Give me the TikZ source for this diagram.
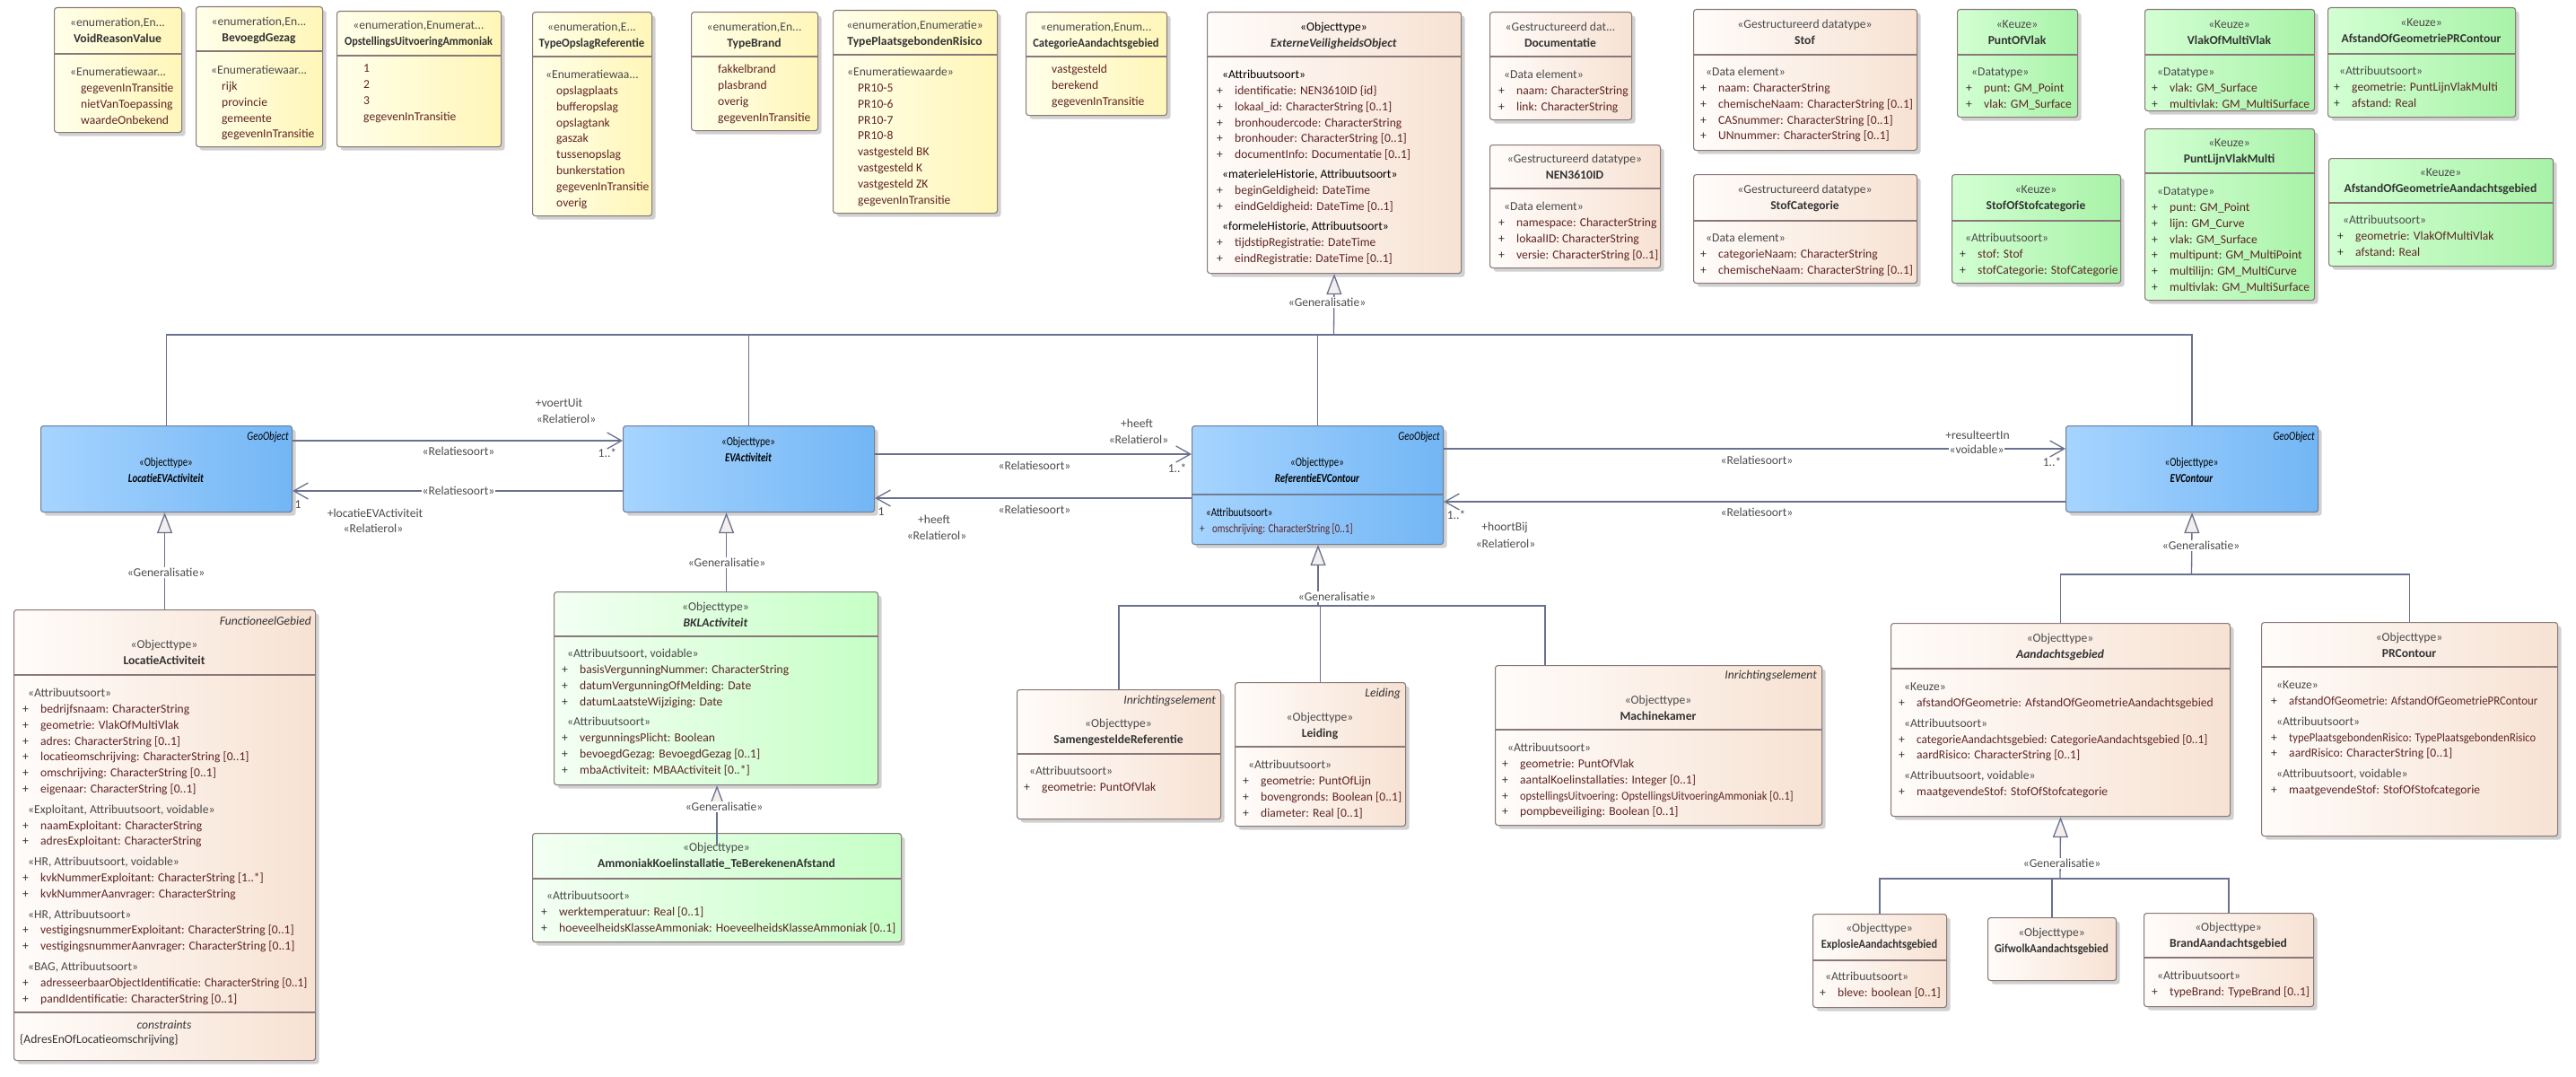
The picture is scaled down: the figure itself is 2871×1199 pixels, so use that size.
\documentclass[tikz,border=0pt]{standalone}
\usepackage{fontspec}
\setmainfont{Carlito}
\newfontfamily\narrowfont[FakeStretch=0.8]{Carlito}
\usepackage{graphicx}
\usetikzlibrary{arrows.meta,shadows,calc}
\definecolor{bordc}{HTML}{8A7878}
\definecolor{blbord}{HTML}{6F7D95}
\definecolor{enL}{HTML}{FFFFEA}
\definecolor{enR}{HTML}{FFF6B8}
\definecolor{beL}{HTML}{FFFCFA}
\definecolor{beR}{HTML}{F7E2D3}
\definecolor{grL}{HTML}{D3FFD3}
\definecolor{grR}{HTML}{A8F2A8}
\definecolor{lgL}{HTML}{F3FFF3}
\definecolor{lgR}{HTML}{C6FFC6}
\definecolor{blL}{HTML}{A6D4FF}
\definecolor{blR}{HTML}{73B6F5}
\definecolor{trif}{HTML}{F4EEEC}
\definecolor{lnc}{HTML}{69718F}
\definecolor{stc}{HTML}{4A4A4A}
\definecolor{atc}{HTML}{5E2525}
\definecolor{ttc}{HTML}{333333}
\definecolor{lbc}{HTML}{4D4D4D}
\newcommand\fs{\fontsize{13.6}{17.8}\selectfont}
\newcommand\uS[1]{\strut\hspace*{6pt}\textcolor{stc}{#1}}
\newcommand\uK[1]{\strut\hspace*{6pt}\textcolor{black}{#1}}
\newcommand\uA[1]{\strut\makebox[20pt][l]{+}\textcolor{atc}{#1}}
\newcommand\uE[1]{\strut\hspace*{12pt}\textcolor{atc}{#1}}
\newcommand\uT[1]{\strut\textcolor{stc}{#1}}
\newcommand\uH[2]{\strut\textcolor{stc}{#1}\\\strut\textbf{#2}}
\newcommand\sqz[2]{\scalebox{#1}[1]{#2}}
\tikzset{
 x=1pt, y=-1pt,
 boxbase/.style={draw=bordc, line width=1.1pt, rounded corners=3pt, inner sep=0pt, anchor=north west,
   drop shadow={shadow xshift=4pt, shadow yshift=-4pt, fill=black!18, opacity=1, draw=none}},
 enumbox/.style={boxbase, left color=enL, right color=enR},
 beigebox/.style={boxbase, left color=beL, right color=beR},
 greenbox/.style={boxbase, left color=grL, right color=grR},
 lgreenbox/.style={boxbase, left color=lgL, right color=lgR},
 bluebox/.style={boxbase, draw=blbord, left color=blL, right color=blR},
 hd/.style={inner sep=0pt, align=center, font=\fs, text=ttc, anchor=north},
 cp/.style={inner sep=0pt, align=left, font=\fs, text=ttc, anchor=north west},
 sepst/.style={draw=bordc, line width=1.1pt},
 conn/.style={draw=lnc, line width=1.3pt},
 gen/.style={conn, -{Triangle[length=23pt,width=17pt,fill=trif]}},
 assoc/.style={conn, -{Straight Barb[length=16pt,width=18pt]}},
 lbl/.style={inner sep=1pt, font=\fs, text=lbc},
 lblw/.style={lbl, fill=white},
 tag/.style={inner sep=0pt, font=\fs\itshape, text=ttc, anchor=east},
}
\newcommand\ubox[6]{\node[#2, minimum width=#5pt, minimum height=#6pt] (#1) at (#3,#4) {};}
\newcommand\uhd[4]{\node[hd] (#1-hd) at (#2,#3-8) {#4};}
\newcommand\usep[2]{\draw[sepst] (#1.west |- 0,#2) -- (#1.east |- 0,#2);}
\newcommand\ucp[4]{\node[cp] (#1) at (#2,#3-8) {#4};}
\begin{document}
\begin{tikzpicture}
\fill[white] (0,0) rectangle (2871,1199);
\useasboundingbox (0,0) rectangle (2871,1199);

% ---------- enumerations ----------
\ubox{voidrv}{enumbox}{60}{8}{142}{139}
\uhd{voidrv}{131}{25}{\uH{«enumeration,En...}{VoidReasonValue}}
\usep{voidrv}{60}
\ucp{voidrv-c}{78}{80}{\uT{«Enumeratiewaar...}\\\uE{gegevenInTransitie}\\\uE{nietVanToepassing}\\\uE{waardeOnbekend}}

\ubox{bevg}{enumbox}{218}{7}{141}{156}
\uhd{bevg}{288.5}{24}{\uH{«enumeration,En...}{BevoegdGezag}}
\usep{bevg}{57}
\ucp{bevg-c}{235}{78}{\uT{«Enumeratiewaar...}\\\uE{rijk}\\\uE{provincie}\\\uE{gemeente}\\\uE{gegevenInTransitie}}

\ubox{opst}{enumbox}{375}{12}{183}{151}
\uhd{opst}{466.5}{28}{\uH{«enumeration,Enumerat...}{\sqz{0.9}{OpstellingsUitvoeringAmmoniak}}}
\usep{opst}{62}
\ucp{opst-c}{393}{76}{\uE{1}\\\uE{2}\\\uE{3}\\\uE{gegevenInTransitie}}

\ubox{tolr}{enumbox}{593}{13}{133}{227}
\uhd{tolr}{659.5}{30}{\uH{«enumeration,E...}{\sqz{0.95}{TypeOpslagReferentie}}}
\usep{tolr}{63}
\ucp{tolr-c}{608}{83}{\uT{«Enumeratiewaa...}\\\uE{opslagplaats}\\\uE{bufferopslag}\\\uE{opslagtank}\\\uE{gaszak}\\\uE{tussenopslag}\\\uE{bunkerstation}\\\uE{gegevenInTransitie}\\\uE{overig}}

\ubox{tbrand}{enumbox}{770}{13}{141}{132}
\uhd{tbrand}{840.5}{30}{\uH{«enumeration,En...}{TypeBrand}}
\usep{tbrand}{63}
\ucp{tbrand-c}{788}{77}{\uE{fakkelbrand}\\\uE{plasbrand}\\\uE{overig}\\\uE{gegevenInTransitie}}

\ubox{tpgr}{enumbox}{928}{11}{183}{226}
\uhd{tpgr}{1019.5}{28}{\uH{«enumeration,Enumeratie»}{TypePlaatsgebondenRisico}}
\usep{tpgr}{61}
\ucp{tpgr-c}{944}{80}{\uT{«Enumeratiewaarde»}\\\uE{PR10-5}\\\uE{PR10-6}\\\uE{PR10-7}\\\uE{PR10-8}\\\uE{vastgesteld BK}\\\uE{vastgesteld K}\\\uE{vastgesteld ZK}\\\uE{gegevenInTransitie}}

\ubox{catag}{enumbox}{1143}{13}{157}{115}
\uhd{catag}{1221.5}{30}{\uH{«enumeration,Enum...}{\sqz{0.93}{CategorieAandachtsgebied}}}
\usep{catag}{63}
\ucp{catag-c}{1160}{77}{\uE{vastgesteld}\\\uE{berekend}\\\uE{gegevenInTransitie}}

% ---------- data types top ----------
\ubox{evo}{beigebox}{1345}{13}{283}{291}
\node[hd] (evo-hd) at (1486.5,22) {\strut\textcolor{black}{«Objecttype»}\\\strut\textbf{\textit{ExterneVeiligheidsObject}}};
\usep{evo}{63}
\ucp{evo-c}{1356}{83}{\uK{«Attribuutsoort»}\\\uA{identificatie: NEN3610ID \{id\}}\\\uA{lokaal\_id: CharacterString [0..1]}\\\uA{bronhoudercode: CharacterString}\\\uA{bronhouder: CharacterString [0..1]}\\\uA{documentInfo: Documentatie [0..1]}\\[4pt]\uK{«materieleHistorie, Attribuutsoort»}\\\uA{beginGeldigheid: DateTime}\\\uA{eindGeldigheid: DateTime [0..1]}\\[5pt]\uK{«formeleHistorie, Attribuutsoort»}\\\uA{tijdstipRegistratie: DateTime}\\\uA{eindRegistratie: DateTime [0..1]}}

\ubox{docu}{beigebox}{1660}{13}{158}{120}
\uhd{docu}{1739}{30}{\uH{«Gestructureerd dat...}{Documentatie}}
\usep{docu}{63}
\ucp{docu-c}{1670}{83}{\uS{«Data element»}\\\uA{naam: CharacterString}\\\uA{link: CharacterString}}

\ubox{nen}{beigebox}{1660}{161}{190}{137}
\uhd{nen}{1755}{177}{\uH{«Gestructureerd datatype»}{NEN3610ID}}
\usep{nen}{210}
\ucp{nen-c}{1670}{230}{\uS{«Data element»}\\\uA{namespace: CharacterString}\\\uA{lokaalID: CharacterString}\\\uA{versie: CharacterString [0..1]}}

\ubox{stof}{beigebox}{1887}{10}{249}{157}
\uhd{stof}{2011.5}{27}{\uH{«Gestructureerd datatype»}{Stof}}
\usep{stof}{61}
\ucp{stof-c}{1895}{80}{\uS{«Data element»}\\\uA{naam: CharacterString}\\\uA{chemischeNaam: CharacterString [0..1]}\\\uA{CASnummer: CharacterString [0..1]}\\\uA{UNnummer: CharacterString [0..1]}}

\ubox{stofcat}{beigebox}{1887}{194}{249}{121}
\uhd{stofcat}{2011.5}{211}{\uH{«Gestructureerd datatype»}{StofCategorie}}
\usep{stofcat}{246}
\ucp{stofcat-c}{1895}{265}{\uS{«Data element»}\\\uA{categorieNaam: CharacterString}\\\uA{chemischeNaam: CharacterString [0..1]}}

\ubox{puntvlak}{greenbox}{2181}{10}{134}{120}
\uhd{puntvlak}{2248}{27}{\uH{«Keuze»}{PuntOfVlak}}
\usep{puntvlak}{61}
\ucp{puntvlak-c}{2191}{80}{\uS{«Datatype»}\\\uA{punt: GM\_Point}\\\uA{vlak: GM\_Surface}}

\ubox{stofof}{greenbox}{2175}{194}{188}{121}
\uhd{stofof}{2269}{211}{\uH{«Keuze»}{StofOfStofcategorie}}
\usep{stofof}{246}
\ucp{stofof-c}{2184}{265}{\uS{«Attribuutsoort»}\\\uA{stof: Stof}\\\uA{stofCategorie: StofCategorie}}

\ubox{vlakmv}{greenbox}{2390}{10}{189}{113}
\uhd{vlakmv}{2484.5}{27}{\uH{«Keuze»}{VlakOfMultiVlak}}
\usep{vlakmv}{61}
\ucp{vlakmv-c}{2398}{80}{\uS{«Datatype»}\\\uA{vlak: GM\_Surface}\\\uA{multivlak: GM\_MultiSurface}}

\ubox{plvm}{greenbox}{2390}{143}{189}{191}
\uhd{plvm}{2484.5}{159}{\uH{«Keuze»}{PuntLijnVlakMulti}}
\usep{plvm}{193}
\ucp{plvm-c}{2398}{213}{\uS{«Datatype»}\\\uA{punt: GM\_Point}\\\uA{lijn: GM\_Curve}\\\uA{vlak: GM\_Surface}\\\uA{multipunt: GM\_MultiPoint}\\\uA{multilijn: GM\_MultiCurve}\\\uA{multivlak: GM\_MultiSurface}}

\ubox{aogpr}{greenbox}{2594}{8}{209}{122}
\uhd{aogpr}{2698.5}{25}{\uH{«Keuze»}{AfstandOfGeometriePRContour}}
\usep{aogpr}{60}
\ucp{aogpr-c}{2601}{79}{\uS{«Attribuutsoort»}\\\uA{geometrie: PuntLijnVlakMulti}\\\uA{afstand: Real}}

\ubox{aogag}{greenbox}{2595}{176}{250}{120}
\uhd{aogag}{2720}{192}{\uH{«Keuze»}{AfstandOfGeometrieAandachtsgebied}}
\usep{aogag}{226}
\ucp{aogag-c}{2605}{245}{\uS{«Attribuutsoort»}\\\uA{geometrie: VlakOfMultiVlak}\\\uA{afstand: Real}}

% ---------- blue object types ----------
\ubox{locev}{bluebox}{45}{474}{280}{96}
\node[tag, font=\fs\narrowfont\itshape, text=black] (locev-geo) at (322,487) {GeoObject};
\node[hd, font=\fs\narrowfont, text=black] (locev-hd) at (185,507) {\strut«Objecttype»\\\strut\textbf{\textit{LocatieEVActiviteit}}};

\ubox{evact}{bluebox}{694}{474}{280}{96}
\node[hd, font=\fs\narrowfont, text=black] (evact-hd) at (834,484) {\strut«Objecttype»\\\strut\textbf{\textit{EVActiviteit}}};

\ubox{ref}{bluebox}{1328}{474}{280}{132}
\node[tag, font=\fs\narrowfont\itshape, text=black] (ref-geo) at (1605,487) {GeoObject};
\node[hd, font=\fs\narrowfont, text=black] (ref-hd) at (1468,507) {\strut«Objecttype»\\\strut\textbf{\textit{ReferentieEVContour}}};
\draw[sepst, draw=blbord] (ref.west |- 0,551) -- (ref.east |- 0,551);
\node[cp, font=\fs\narrowfont] (ref-c) at (1337,563) {\strut\hspace*{7pt}\textcolor{black}{«Attribuutsoort»}\\\strut\makebox[14pt][l]{+}\textcolor{atc}{omschrijving: CharacterString [0..1]}};

\ubox{evc}{bluebox}{2302}{474}{281}{96}
\node[tag, font=\fs\narrowfont\itshape, text=black] (evc-geo) at (2580,487) {GeoObject};
\node[hd, font=\fs\narrowfont, text=black] (evc-hd) at (2442.5,507) {\strut«Objecttype»\\\strut\textbf{\textit{EVContour}}};

% ---------- LocatieActiviteit ----------
\ubox{locact}{beigebox}{15}{679}{336}{502}
\node[tag] (locact-tag) at (347,692) {FunctioneelGebied};
\uhd{locact}{183}{718}{\uH{«Objecttype»}{LocatieActiviteit}}
\usep{locact}{752}
\ucp{locact-c}{25}{772}{\uS{«Attribuutsoort»}\\\uA{bedrijfsnaam: CharacterString}\\\uA{geometrie: VlakOfMultiVlak}\\\uA{adres: CharacterString [0..1]}\\\uA{locatieomschrijving: CharacterString [0..1]}\\\uA{omschrijving: CharacterString [0..1]}\\\uA{eigenaar: CharacterString [0..1]}\\[5pt]\uS{«Exploitant, Attribuutsoort, voidable»}\\\uA{naamExploitant: CharacterString}\\\uA{adresExploitant: CharacterString}\\[5pt]\uS{«HR, Attribuutsoort, voidable»}\\\uA{kvkNummerExploitant: CharacterString [1..*]}\\\uA{kvkNummerAanvrager: CharacterString}\\[5pt]\uS{«HR, Attribuutsoort»}\\\uA{vestigingsnummerExploitant: CharacterString [0..1]}\\\uA{vestigingsnummerAanvrager: CharacterString [0..1]}\\[5pt]\uS{«BAG, Attribuutsoort»}\\\uA{\sqz{0.97}{adresseerbaarObjectIdentificatie: CharacterString [0..1]}}\\\uA{pandIdentificatie: CharacterString [0..1]}}
\usep{locact}{1128}
\node[inner sep=0pt, font=\fs\itshape, text=ttc] (locact-cn) at (183,1142) {constraints};
\node[inner sep=0pt, font=\fs, text=ttc, anchor=west] (locact-cs) at (22,1159) {\{AdresEnOfLocatieomschrijving\}};

% ---------- BKL / Ammoniak ----------
\ubox{bkl}{lgreenbox}{617}{659}{361}{215}
\uhd{bkl}{797.5}{676}{\uH{«Objecttype»}{\textit{BKLActiviteit}}}
\usep{bkl}{709}
\ucp{bkl-c}{626}{728}{\uS{«Attribuutsoort, voidable»}\\\uA{basisVergunningNummer: CharacterString}\\\uA{datumVergunningOfMelding: Date}\\\uA{datumLaatsteWijziging: Date}\\[5pt]\uS{«Attribuutsoort»}\\\uA{vergunningsPlicht: Boolean}\\\uA{bevoegdGezag: BevoegdGezag [0..1]}\\\uA{mbaActiviteit: MBAActiviteit [0..*]}}

\ubox{amm}{lgreenbox}{593}{928}{411}{121}
\uhd{amm}{798.5}{944}{\uH{«Objecttype»}{AmmoniakKoelinstallatie\_TeBerekenenAfstand}}
\usep{amm}{979}
\ucp{amm-c}{603}{998}{\uS{«Attribuutsoort»}\\\uA{werktemperatuur: Real [0..1]}\\\uA{hoeveelheidsKlasseAmmoniak: HoeveelheidsKlasseAmmoniak [0..1]}}

% ---------- Referentie children ----------
\ubox{samref}{beigebox}{1133}{768}{227}{144}
\node[tag] (samref-tag) at (1355,781) {Inrichtingselement};
\uhd{samref}{1246.5}{806}{\uH{«Objecttype»}{SamengesteldeReferentie}}
\usep{samref}{840}
\ucp{samref-c}{1141}{859}{\uS{«Attribuutsoort»}\\\uA{geometrie: PuntOfVlak}}

\ubox{leiding}{beigebox}{1376}{760}{190}{160}
\node[tag] (leiding-tag) at (1561,773) {Leiding};
\uhd{leiding}{1471}{799}{\uH{«Objecttype»}{Leiding}}
\usep{leiding}{832}
\ucp{leiding-c}{1385}{852}{\uS{«Attribuutsoort»}\\\uA{geometrie: PuntOfLijn}\\\uA{bovengronds: Boolean [0..1]}\\\uA{diameter: Real [0..1]}}

\ubox{mach}{beigebox}{1666}{741}{364}{178}
\node[tag] (mach-tag) at (2025,753) {Inrichtingselement};
\uhd{mach}{1848}{780}{\uH{«Objecttype»}{Machinekamer}}
\usep{mach}{813}
\ucp{mach-c}{1674}{833}{\uS{«Attribuutsoort»}\\\uA{geometrie: PuntOfVlak}\\\uA{aantalKoelinstallaties: Integer [0..1]}\\\uA{\sqz{0.91}{opstellingsUitvoering: OpstellingsUitvoeringAmmoniak [0..1]}}\\\uA{pompbeveiliging: Boolean [0..1]}}

% ---------- EVContour children ----------
\ubox{aand}{beigebox}{2107}{694}{378}{215}
\uhd{aand}{2296}{711}{\uH{«Objecttype»}{\textit{Aandachtsgebied}}}
\usep{aand}{745}
\ucp{aand-c}{2116}{765}{\uS{«Keuze»}\\\uA{afstandOfGeometrie: AfstandOfGeometrieAandachtsgebied}\\[5pt]\uS{«Attribuutsoort»}\\\uA{\sqz{0.97}{categorieAandachtsgebied: CategorieAandachtsgebied [0..1]}}\\\uA{aardRisico: CharacterString [0..1]}\\[5pt]\uS{«Attribuutsoort, voidable»}\\\uA{maatgevendeStof: StofOfStofcategorie}}

\ubox{prc}{beigebox}{2520}{693}{330}{238}
\uhd{prc}{2685}{710}{\uH{«Objecttype»}{PRContour}}
\usep{prc}{743}
\ucp{prc-c}{2531}{763}{\uS{«Keuze»}\\\uA{\sqz{0.94}{afstandOfGeometrie: AfstandOfGeometriePRContour}}\\[5pt]\uS{«Attribuutsoort»}\\\uA{\sqz{0.92}{typePlaatsgebondenRisico: TypePlaatsgebondenRisico}}\\\uA{aardRisico: CharacterString [0..1]}\\[5pt]\uS{«Attribuutsoort, voidable»}\\\uA{maatgevendeStof: StofOfStofcategorie}}

\ubox{explo}{beigebox}{2020}{1018}{149}{104}
\uhd{explo}{2094.5}{1034}{\uH{«Objecttype»}{\sqz{0.9}{ExplosieAandachtsgebied}}}
\usep{explo}{1070}
\ucp{explo-c}{2028}{1088}{\uS{«Attribuutsoort»}\\\uA{bleve: boolean [0..1]}}

\ubox{gifw}{beigebox}{2215}{1022}{143}{70}
\uhd{gifw}{2286.5}{1039}{\uH{«Objecttype»}{\sqz{0.9}{GifwolkAandachtsgebied}}}

\ubox{brand}{beigebox}{2389}{1017}{189}{104}
\uhd{brand}{2483.5}{1033}{\uH{«Objecttype»}{BrandAandachtsgebied}}
\usep{brand}{1067}
\ucp{brand-c}{2398}{1087}{\uS{«Attribuutsoort»}\\\uA{typeBrand: TypeBrand [0..1]}}

% ---------- generalisations ----------
\coordinate (evobus) at (1486.5,373);
\draw[conn] (locev.north) |- (evobus);
\draw[conn] (evc.north) |- (evobus);
\draw[conn] (evact.north) -- (evact.north |- evobus);
\draw[conn] (ref.north) -- (ref.north |- evobus);
\draw[gen] (evobus) -- (evo.south);
\node[lblw] (g-evo) at (1479,337) {«Generalisatie»};

\draw[gen] (locact.north) -- (locact.north |- locev.south);
\node[lblw] (g-locev) at (185,638) {«Generalisatie»};

\draw[gen] ([xshift=11.5pt]bkl.north) -- ([xshift=11.5pt]bkl.north |- evact.south);
\node[lblw] (g-evact) at (810,627) {«Generalisatie»};

\draw[gen] ([yshift=-14pt]amm.north) -- (amm.north |- bkl.south);
\node[lblw] (g-bkl) at (807,899) {«Generalisatie»};

\coordinate (refbus) at (1469,675);
\draw[conn] (samref.north) |- (refbus);
\draw[conn] (leiding.north) |- (refbus);
\draw[conn] ([xshift=56pt]mach.north west) |- (refbus);
\draw[gen] (refbus) -- (refbus |- ref.south);
\node[lblw] (g-ref) at (1490,665) {«Generalisatie»};

\coordinate (evcbus) at (2442.5,640);
\draw[conn] (aand.north) |- (evcbus);
\draw[conn] (prc.north) |- (evcbus);
\draw[gen] (evcbus) -- (evc.south);
\node[lblw] (g-evc) at (2453,608) {«Generalisatie»};

\coordinate (aandbus) at (2296,979);
\draw[conn] (explo.north) |- (aandbus);
\draw[conn] (gifw.north) |- (aandbus);
\draw[conn] (brand.north) |- (aandbus);
\draw[gen] (aandbus) -- (aand.south);
\node[lblw] (g-aand) at (2298,962) {«Generalisatie»};

% ---------- associations ----------
\draw[assoc] (locev.east |- 0,491) -- (evact.west |- 0,491);
\node[lbl] (a1a) at (623,449) {+voertUit};
\node[lbl] (a1b) at (631,467) {«Relatierol»};
\node[lbl] (a1c) at (511,503) {«Relatiesoort»};
\node[lbl] (a1d) at (677,505) {1..*};

\draw[assoc] (evact.west |- 0,547) -- (locev.east |- 0,547);
\node[lblw] (a2c) at (511,547) {«Relatiesoort»};
\node[lbl] (a2d) at (332,562) {1};
\node[lbl] (a2a) at (418,572) {+locatieEVActiviteit};
\node[lbl] (a2b) at (416,589) {«Relatierol»};

\draw[assoc] (evact.east |- 0,506) -- (ref.west |- 0,506);
\node[lbl] (a3a) at (1267,472) {+heeft};
\node[lbl] (a3b) at (1269,490) {«Relatierol»};
\node[lbl] (a3c) at (1153,519) {«Relatiesoort»};
\node[lbl] (a3d) at (1312,522) {1..*};

\draw[assoc] (ref.west |- 0,555) -- (evact.east |- 0,555);
\node[lbl] (a4c) at (1153,568) {«Relatiesoort»};
\node[lbl] (a4d) at (982,570) {1};
\node[lbl] (a4a) at (1041,579) {+heeft};
\node[lbl] (a4b) at (1044,597) {«Relatierol»};

\draw[assoc] (ref.east |- 0,500) -- (evc.west |- 0,500);
\node[lbl] (a5a) at (2204,485) {+resulteertIn};
\node[lblw, inner sep=0.5pt] (a5b) at (2203,501) {«voidable»};
\node[lbl] (a5d) at (2287,515) {1..*};
\node[lbl] (a5c) at (1958,513) {«Relatiesoort»};

\draw[assoc] (evc.west |- 0,559) -- (ref.east |- 0,559);
\node[lbl] (a6d) at (1623,574) {1..*};
\node[lbl] (a6a) at (1677,588) {+hoortBij};
\node[lbl] (a6b) at (1678,606) {«Relatierol»};
\node[lbl] (a6c) at (1958,571) {«Relatiesoort»};
\end{tikzpicture}
\end{document}
